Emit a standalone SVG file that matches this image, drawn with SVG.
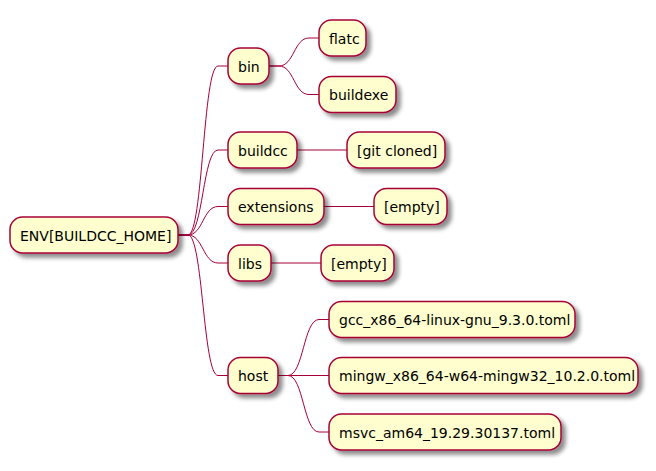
<svg xmlns="http://www.w3.org/2000/svg" width="656" height="471" viewBox="0 0 656 471">
<defs>
<filter id="sh" x="-20%" y="-30%" width="150%" height="180%">
<feGaussianBlur in="SourceAlpha" stdDeviation="2"/>
<feColorMatrix type="matrix" values="0 0 0 0 0 0 0 0 0 0 0 0 0 0 0 0 0 0 0.45 0"/>
<feOffset dx="4" dy="4" result="b"/>
<feMerge><feMergeNode in="b"/><feMergeNode in="SourceGraphic"/></feMerge>
</filter>
</defs>
<style>
.n rect{fill:#FEFECE;stroke:#A80036;stroke-width:1.5;filter:url(#sh)}
.n text{font-family:"DejaVu Sans",sans-serif;font-size:14px;fill:#000}
#edges path{fill:none;stroke:#A80036;stroke-width:1}
</style>
<rect width="656" height="471" fill="#fff"/>
<g id="edges">
<path d="M178,235 L188,235 C203,235 203,66 218,66 L228,66"/>
<path d="M178,235 L188,235 C203,235 203,150 218,150 L228,150"/>
<path d="M178,235 L188,235 C203,235 203,206.5 218,206.5 L228,206.5"/>
<path d="M178,235 L188,235 C203,235 203,263 218,263 L228,263"/>
<path d="M178,235 L188,235 C203,235 203,375.5 218,375.5 L228,375.5"/>
<path d="M269,66 L279,66 C294,66 294,38 309,38 L319,38"/>
<path d="M269,66 L279,66 C294,66 294,94.5 309,94.5 L319,94.5"/>
<path d="M297,150 L347,150"/>
<path d="M324,206.5 L374,206.5"/>
<path d="M271,263 L321,263"/>
<path d="M278,375.5 L288,375.5 C303.5,375.5 303.5,319.5 319,319.5 L329,319.5"/>
<path d="M278,375.5 L329,375.5"/>
<path d="M278,375.5 L288,375.5 C303.5,375.5 303.5,432 319,432 L329,432"/>
</g>
<g id="root" class="n"><rect x="10" y="217" width="168" height="36" rx="12.5"/><text x="20" y="240.5">ENV[BUILDCC_HOME]</text></g>
<g id="bin" class="n"><rect x="228" y="48" width="41" height="36" rx="12.5"/><text x="238" y="71.5">bin</text></g>
<g id="flatc" class="n"><rect x="319" y="20" width="47" height="36" rx="12.5"/><text x="329" y="43.5">flatc</text></g>
<g id="buildexe" class="n"><rect x="319" y="76.5" width="77" height="36" rx="12.5"/><text x="329" y="100">buildexe</text></g>
<g id="buildcc" class="n"><rect x="228" y="132" width="69" height="36" rx="12.5"/><text x="238" y="155.5">buildcc</text></g>
<g id="gitcloned" class="n"><rect x="347" y="132" width="98" height="36" rx="12.5"/><text x="357" y="155.5">[git cloned]</text></g>
<g id="extensions" class="n"><rect x="228" y="188.5" width="96" height="36" rx="12.5"/><text x="238" y="212">extensions</text></g>
<g id="empty1" class="n"><rect x="374" y="188.5" width="73" height="36" rx="12.5"/><text x="384" y="212">[empty]</text></g>
<g id="libs" class="n"><rect x="228" y="245" width="43" height="36" rx="12.5"/><text x="238" y="268.5">libs</text></g>
<g id="empty2" class="n"><rect x="321" y="245" width="73" height="36" rx="12.5"/><text x="331" y="268.5">[empty]</text></g>
<g id="host" class="n"><rect x="228" y="357.5" width="50" height="36" rx="12.5"/><text x="238" y="381">host</text></g>
<g id="gcc" class="n"><rect x="329" y="301.5" width="246" height="36" rx="12.5"/><text x="339" y="325">gcc_x86_64-linux-gnu_9.3.0.toml</text></g>
<g id="mingw" class="n"><rect x="329" y="357.5" width="309" height="36" rx="12.5"/><text x="339" y="381">mingw_x86_64-w64-mingw32_10.2.0.toml</text></g>
<g id="msvc" class="n"><rect x="329" y="414" width="232" height="36" rx="12.5"/><text x="339" y="437.5">msvc_am64_19.29.30137.toml</text></g>
</svg>
